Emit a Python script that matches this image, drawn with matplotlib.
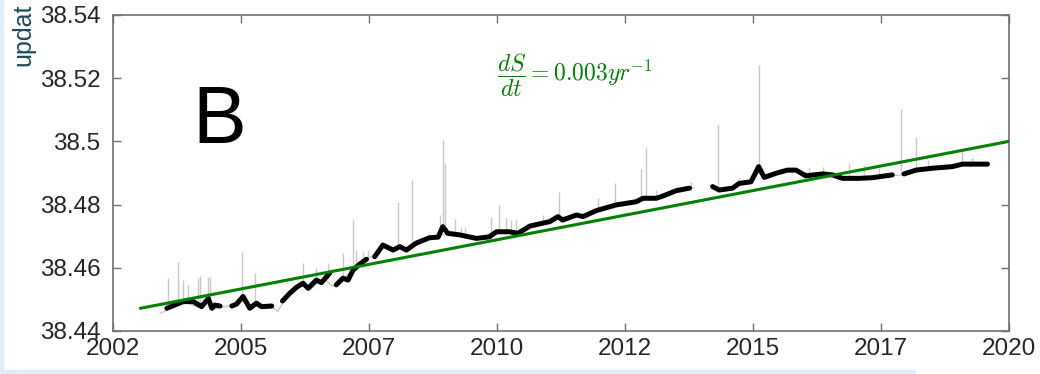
import numpy as np
import matplotlib.pyplot as plt
from matplotlib.patches import Rectangle

nan = np.nan

# smoothed salinity record (gaps marked with nan)
sal_t = [2003.55, 2003.87, 2004.07, 2004.23, 2004.36, 2004.43, 2004.49, 2004.59, nan,
         2004.82, 2004.91, 2005.04, 2005.17, 2005.30, 2005.40, 2005.60, nan,
         2005.81, 2005.95, 2006.08, 2006.21, 2006.31, 2006.47, 2006.57, 2006.73, nan,
         2006.86, 2006.99, 2007.09, 2007.19, 2007.32, 2007.45, nan,
         2007.61, 2007.77, 2007.97, 2008.10, 2008.23, 2008.42, 2008.68, 2008.85, 2008.94,
         2009.04, 2009.27, 2009.60, 2009.85, 2009.99, 2010.24, 2010.41, 2010.64, 2011.03,
         2011.19, 2011.28, 2011.55, 2011.68, 2011.94, 2012.33, 2012.72, 2012.85, 2013.11,
         2013.24, 2013.50, 2013.76, nan,
         2014.21, 2014.34, 2014.60, 2014.73, 2014.96, 2015.11, 2015.22, 2015.45, 2015.67,
         2015.84, 2016.03, 2016.36, 2016.55, 2016.75, 2017.07, 2017.33, 2017.72, nan,
         2017.95, 2018.18, 2018.50, 2018.89, 2019.09, 2019.58]
sal_v = [38.4472, 38.4493, 38.4493, 38.4477, 38.4503, 38.4472, 38.4482, 38.4479, nan,
         38.4479, 38.4485, 38.4509, 38.4472, 38.4488, 38.4477, 38.4479, nan,
         38.4495, 38.4519, 38.4538, 38.4551, 38.4535, 38.4561, 38.4553, 38.4583, nan,
         38.4546, 38.4567, 38.4561, 38.4593, 38.4612, 38.4627, nan,
         38.4635, 38.4672, 38.4656, 38.4667, 38.4656, 38.4678, 38.4695, 38.4697, 38.4730,
         38.4709, 38.4704, 38.4693, 38.4698, 38.4714, 38.4714, 38.4709, 38.4732, 38.4746,
         38.4762, 38.4751, 38.4767, 38.4762, 38.4781, 38.4799, 38.4809, 38.4820, 38.4820,
         38.4827, 38.4844, 38.4852, nan,
         38.4857, 38.4846, 38.4852, 38.4867, 38.4872, 38.4920, 38.4886, 38.4899, 38.4909,
         38.4909, 38.4891, 38.4897, 38.4894, 38.4883, 38.4883, 38.4885, 38.4894, nan,
         38.4897, 38.4909, 38.4915, 38.4920, 38.4928, 38.4928]

# raw record, background trace
raw_t = [2003.42, 2003.55, 2003.70, 2003.85, 2004.00, 2004.15, 2004.30, 2004.45, 2004.60,
         2004.75, 2004.90, 2005.05, 2005.20, 2005.35, 2005.50, 2005.62, 2005.72, 2005.82,
         2006.00, 2006.20, 2006.35, 2006.50, 2006.65, 2006.78, 2006.90, 2007.05, 2007.20,
         2007.35, 2007.50, 2007.60, 2007.80, 2008.00, 2008.25, 2008.45, 2008.70, 2008.90,
         2009.10, 2009.40, 2009.70, 2010.00, 2010.30, 2010.60, 2010.90, 2011.20, 2011.50,
         2011.80, 2012.10, 2012.40, 2012.70, 2013.00, 2013.30, 2013.60, 2013.85, nan,
         2014.20, 2014.40, 2014.70, 2014.95, 2015.10, 2015.30, 2015.60, 2015.90, 2016.20,
         2016.50, 2016.80, 2017.10, 2017.40, 2017.70, 2017.85, 2018.00, 2018.30, 2018.60,
         2018.90, 2019.20, 2019.55]
raw_v = [38.4455, 38.4466, 38.4484, 38.4490, 38.4486, 38.4476, 38.4496, 38.4468, 38.4476,
         38.4478, 38.4484, 38.4505, 38.4468, 38.4486, 38.4474, 38.4474, 38.4462, 38.4490,
         38.4522, 38.4548, 38.4530, 38.4556, 38.4562, 38.4542, 38.4552, 38.4572, 38.4597,
         38.4617, 38.4632, 38.4640, 38.4668, 38.4660, 38.4660, 38.4680, 38.4693, 38.4705,
         38.4706, 38.4700, 38.4694, 38.4712, 38.4712, 38.4728, 38.4742, 38.4758, 38.4764,
         38.4772, 38.4790, 38.4800, 38.4808, 38.4818, 38.4830, 38.4846, 38.4854, nan,
         38.4855, 38.4846, 38.4864, 38.4870, 38.4900, 38.4890, 38.4906, 38.4905, 38.4893,
         38.4893, 38.4884, 38.4883, 38.4887, 38.4892, 38.4893, 38.4897, 38.4911, 38.4916,
         38.4920, 38.4928, 38.4928]

# short-lived spikes in the raw record
spike_t = [2003.57, 2003.77, 2003.87, 2003.97, 2004.16, 2004.20, 2004.36, 2004.39, 2005.01,
           2005.27, 2006.21, 2006.47, 2006.70, 2006.99, 2007.18, 2007.25, 2007.38, 2007.47,
           2007.64, 2008.07, 2008.33, 2008.88, 2008.94, 2008.98, 2009.17, 2009.30, 2009.37,
           2009.89, 2010.04, 2010.17, 2010.28, 2010.38, 2010.89, 2011.22, 2011.97, 2012.31,
           2012.81, 2012.90, 2013.11, 2013.79, 2014.31, 2014.73, 2015.11, 2016.10, 2016.36,
           2016.88, 2017.17, 2017.46, 2017.89, 2018.19, 2018.41, 2019.09, 2019.28]
spike_lo = [38.4468, 38.4485, 38.4490, 38.4488, 38.4476, 38.4476, 38.4498, 38.4490, 38.4500,
            38.4482, 38.4548, 38.4556, 38.4575, 38.4565, 38.4590, 38.4600, 38.4612, 38.4625,
            38.4638, 38.4664, 38.4668, 38.4703, 38.4725, 38.4718, 38.4705, 38.4702, 38.4700,
            38.4697, 38.4712, 38.4713, 38.4712, 38.4710, 38.4742, 38.4758, 38.4780, 38.4797,
            38.4812, 38.4818, 38.4820, 38.4852, 38.4848, 38.4866, 38.4918, 38.4890, 38.4896,
            38.4884, 38.4884, 38.4886, 38.4894, 38.4909, 38.4914, 38.4927, 38.4928]
spike_hi = [38.4567, 38.4619, 38.4561, 38.4546, 38.4567, 38.4574, 38.4571, 38.4572, 38.4651,
            38.4582, 38.4614, 38.4599, 38.4614, 38.4647, 38.4753, 38.4656, 38.4651, 38.4656,
            38.4647, 38.4808, 38.4878, 38.4767, 38.5004, 38.4931, 38.4754, 38.4730, 38.4730,
            38.4762, 38.4799, 38.4757, 38.4752, 38.4752, 38.4767, 38.4841, 38.4820, 38.4869,
            38.4912, 38.4983, 38.4846, 38.4873, 38.5052, 38.4883, 38.5242, 38.4915, 38.4920,
            38.4931, 38.4925, 38.4915, 38.5103, 38.5014, 38.4941, 38.4973, 38.4947]

# linear trend
trend_t = [2003.04, 2020.0]
trend_v = [38.4472, 38.5000]

xtick_pos = [2002.5, 2005, 2007.5, 2010, 2012.5, 2015, 2017.5, 2020]
xtick_lab = ['2002', '2005', '2007', '2010', '2012', '2015', '2017', '2020']
ytick_pos = [38.44, 38.46, 38.48, 38.5, 38.52, 38.54]
ytick_lab = ['38.44', '38.46', '38.48', '38.5', '38.52', '38.54']

plt.rcParams['font.family'] = ['Liberation Sans', 'DejaVu Sans']
plt.rcParams['mathtext.fontset'] = 'cm'

fig = plt.figure(figsize=(10.4, 3.74), dpi=100)
ax = fig.add_axes([0.1087, 0.115, 0.8615, 0.845])

ax.plot(raw_t, raw_v, color='#c8c8c8', lw=1.0, zorder=1)
ax.vlines(spike_t, spike_lo, spike_hi, color='#c8c8c8', lw=1.0, zorder=1)
ax.plot(sal_t, sal_v, color='black', lw=3.6, solid_capstyle='round', zorder=2)
ax.plot(trend_t, trend_v, color='#008000', lw=2.2, zorder=3)

ax.set_xlim(2002.5, 2020)
ax.set_ylim(38.44, 38.54)
ax.set_xticks(xtick_pos)
ax.set_xticklabels(xtick_lab)
ax.set_yticks(ytick_pos)
ax.set_yticklabels(ytick_lab)
ax.tick_params(direction='in', length=6, width=1, colors='#707070',
               labelcolor='#262626', labelsize=17.5, top=True, right=True)
ax.tick_params(axis='x', pad=5)
ax.tick_params(axis='y', pad=9)
for s in ax.spines.values():
    s.set_color('#707070')
    s.set_linewidth(1.2)

ax.text(0.089, 0.595, 'B', transform=ax.transAxes, fontsize=58,
        ha='left', va='baseline', color='black')
ax.text(0.429, 0.81, r'$\dfrac{dS}{dt} = 0.003yr^{-1}$', transform=ax.transAxes,
        fontsize=17, ha='left', va='center', color='#008000')

fig.text(0.022, 1 - 66 / 374, 'updat', rotation=90, ha='center',
         va='bottom', fontsize=18, color='#1d4a5c')

# light frame strips along the left and bottom edges
fig.patches.append(Rectangle((0, 0), 3 / 1040, 1, transform=fig.transFigure,
                             color='#e1edf8', zorder=0))
fig.patches.append(Rectangle((0, 0), 915 / 1040, 4 / 374, transform=fig.transFigure,
                             color='#e1edf8', zorder=0))

fig.savefig('out.png', dpi=100)
